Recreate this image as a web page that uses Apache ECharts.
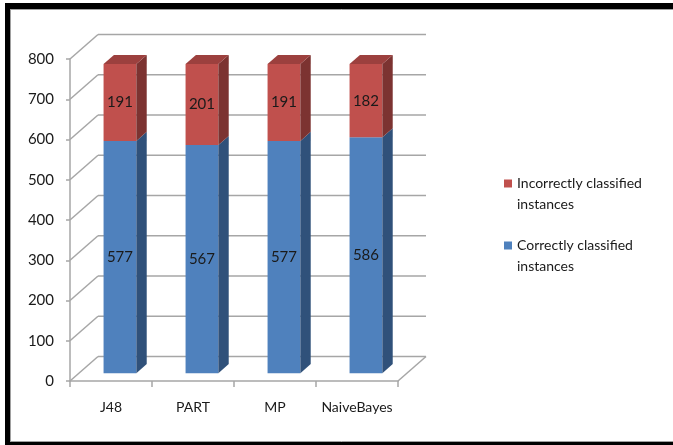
<!DOCTYPE html>
<html>
<head>
<meta charset="utf-8">
<script src="https://cdn.jsdelivr.net/npm/echarts@6/dist/echarts.min.js"></script>
<style>
  html, body { margin: 0; padding: 0; background: #fff; }
  #chart { position: absolute; left: 0; top: 0; width: 673px; height: 445px; }
</style>
</head>
<body>
<div id="chart"></div>
<script>
// Classifiers compared
const categories = ['J48', 'PART', 'MP', 'NaiveBayes'];
// Instances per classifier
const correctlyClassified = [577, 567, 577, 586];
const incorrectlyClassified = [191, 201, 191, 182];
// Value axis ticks
const yTicks = [0, 100, 200, 300, 400, 500, 600, 700, 800];

const seriesNames = ['Correctly classified instances', 'Incorrectly classified instances'];

// Pseudo-3D geometry (pixels): offset from the front plane to the back wall
const DEPTH_X = 28;
const DEPTH_Y = -24.5;
// Bars sit in the middle of the floor depth
const BAR_FRONT = 0.32;
const BAR_DEPTH = 0.37;
const BAR_WIDTH = 0.4;

const FONT = 'Lato, "Open Sans", sans-serif';
const TEXT = '#1a1a1a';
const GRID_COLOR = '#a6a6a6';

const palette = {
  correct: { front: '#4f81bd', side: '#30517a', top: '#3d6699' },
  incorrect: { front: '#c0504d', side: '#7c3331', top: '#9c403e' }
};

// Back wall, left wall and floor edges
function renderWalls(params, api) {
  const cs = params.coordSys;
  const v = api.value(0);
  const y = api.coord([0, v])[1];
  const x0 = cs.x, x1 = cs.x + cs.width;
  const style = { stroke: GRID_COLOR, lineWidth: 1.5 };
  const children = [
    { type: 'line', shape: { x1: x0, y1: y, x2: x0 + DEPTH_X, y2: y + DEPTH_Y }, style },
    { type: 'line', shape: { x1: x0 + DEPTH_X, y1: y + DEPTH_Y, x2: x1 + DEPTH_X, y2: y + DEPTH_Y }, style }
  ];
  if (v === 0) {
    children.push({ type: 'line', shape: { x1: x1, y1: y, x2: x1 + DEPTH_X, y2: y + DEPTH_Y }, style });
  }
  return { type: 'group', children };
}

function makeBarRenderer(colors, withTop) {
  return function (params, api) {
    const idx = api.value(0);
    const base = api.value(1);
    const top = api.value(2);
    const label = api.value(3);
    const band = api.size([1, 0])[0];
    const w = band * BAR_WIDTH;
    const pb = api.coord([idx, base]);
    const pt = api.coord([idx, top]);
    const fx = DEPTH_X * BAR_FRONT, fy = DEPTH_Y * BAR_FRONT;
    const dx = DEPTH_X * BAR_DEPTH, dy = DEPTH_Y * BAR_DEPTH;
    const left = pb[0] - w / 2 + fx;
    const right = pb[0] + w / 2 + fx;
    const yb = pb[1] + fy;
    const yt = pt[1] + fy;
    const children = [
      { type: 'rect', shape: { x: left, y: yt, width: w, height: yb - yt },
        style: { fill: colors.front } },
      { type: 'polygon', shape: { points: [[right, yb], [right, yt], [right + dx, yt + dy], [right + dx, yb + dy]] },
        style: { fill: colors.side } }
    ];
    if (withTop) {
      children.push({ type: 'polygon',
        shape: { points: [[left, yt], [right, yt], [right + dx, yt + dy], [left + dx, yt + dy]] },
        style: { fill: colors.top } });
    }
    children.push({ type: 'text',
      style: { x: (left + right) / 2, y: (yt + yb) / 2, text: String(label),
        align: 'center', verticalAlign: 'middle', fill: TEXT,
        font: '15px ' + FONT } });
    return { type: 'group', children };
  };
}

const correctData = categories.map((c, i) => [i, 0, correctlyClassified[i], correctlyClassified[i]]);
const incorrectData = categories.map((c, i) => [i, correctlyClassified[i],
  correctlyClassified[i] + incorrectlyClassified[i], incorrectlyClassified[i]]);

const chart = echarts.init(document.getElementById('chart'), null, { renderer: 'canvas' });
chart.setOption({
  animation: false,
  backgroundColor: '#fff',
  textStyle: { fontFamily: FONT },
  grid: { left: 70, top: 59, width: 328, height: 322, containLabel: false },
  xAxis: {
    type: 'category',
    data: categories,
    boundaryGap: true,
    axisLine: { lineStyle: { color: GRID_COLOR, width: 1.5 } },
    axisTick: { show: true, length: 6, lineStyle: { color: GRID_COLOR, width: 1.5 } },
    axisLabel: { color: TEXT, fontSize: 14, margin: 19, interval: 0, fontFamily: FONT }
  },
  yAxis: {
    type: 'value',
    min: yTicks[0],
    max: yTicks[yTicks.length - 1],
    interval: yTicks[1] - yTicks[0],
    axisLine: { show: true, lineStyle: { color: GRID_COLOR, width: 1.5 } },
    axisTick: { show: true, length: 4, lineStyle: { color: GRID_COLOR, width: 1.5 } },
    splitLine: { show: false },
    axisLabel: { color: TEXT, fontSize: 15, margin: 16, fontFamily: FONT }
  },
  legend: {
    orient: 'vertical',
    left: 504,
    top: 152,
    padding: 0,
    itemGap: -1,
    itemWidth: 8,
    itemHeight: 8,
    icon: 'rect',
    data: [seriesNames[1], seriesNames[0]],
    // leading blank line keeps the marker level with the first text line
    formatter: name => '\n' + name.replace(' instances', '\ninstances'),
    textStyle: { color: TEXT, fontSize: 14, lineHeight: 21, fontFamily: FONT }
  },
  graphic: [
    { type: 'rect', silent: true, shape: { x: 5, y: 3, width: 5, height: 442 }, style: { fill: '#000' } },
    { type: 'rect', silent: true, shape: { x: 5, y: 3, width: 668, height: 6 }, style: { fill: '#000' } },
    { type: 'rect', silent: true, shape: { x: 5, y: 442, width: 668, height: 3 }, style: { fill: '#000' } },
    { type: 'line', silent: true, shape: { x1: 10.5, y1: 9, x2: 10.5, y2: 442 }, style: { stroke: '#a0a0a0', lineWidth: 1 } },
    { type: 'line', silent: true, shape: { x1: 10, y1: 9.5, x2: 673, y2: 9.5 }, style: { stroke: '#a0a0a0', lineWidth: 1 } },
    { type: 'line', silent: true, shape: { x1: 10, y1: 441.5, x2: 673, y2: 441.5 }, style: { stroke: '#a0a0a0', lineWidth: 1 } }
  ],
  series: [
    {
      type: 'custom',
      name: 'walls',
      silent: true,
      z: 1,
      renderItem: renderWalls,
      data: yTicks.map(v => [v]),
      encode: { y: 0 }
    },
    {
      type: 'custom',
      name: seriesNames[0],
      z: 3,
      itemStyle: { color: palette.correct.front },
      renderItem: makeBarRenderer(palette.correct, false),
      data: correctData,
      encode: { x: 0, y: [1, 2] }
    },
    {
      type: 'custom',
      name: seriesNames[1],
      z: 4,
      itemStyle: { color: palette.incorrect.front },
      renderItem: makeBarRenderer(palette.incorrect, true),
      data: incorrectData,
      encode: { x: 0, y: [1, 2] }
    }
  ]
});
</script>
</body>
</html>
